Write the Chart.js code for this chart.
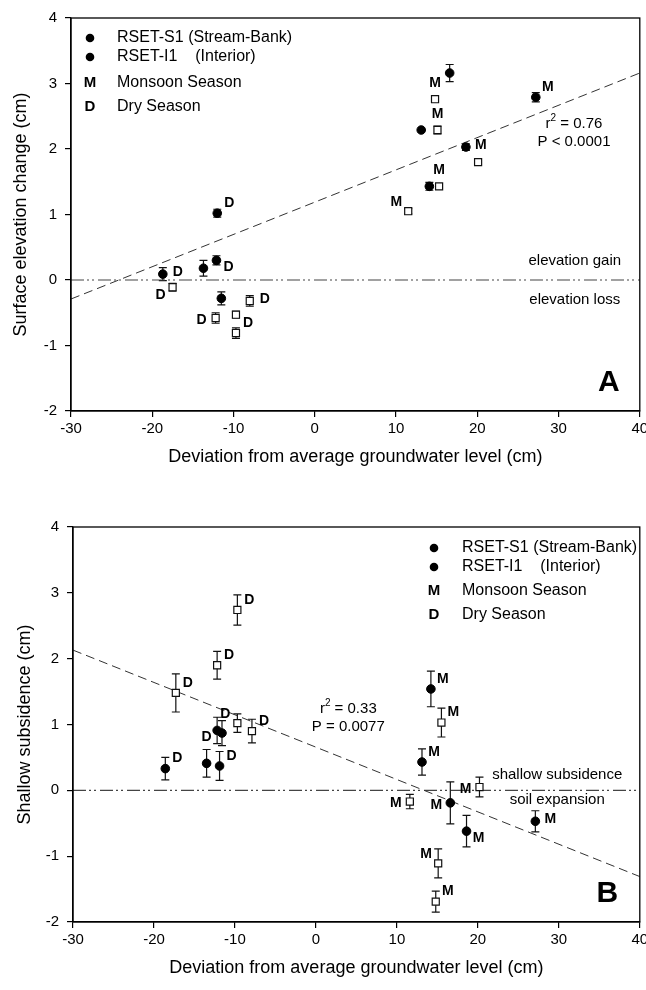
<!DOCTYPE html>
<html>
<head>
<meta charset="utf-8">
<script src="https://cdn.jsdelivr.net/npm/chart.js@4"></script>
<style>
  html, body { margin: 0; padding: 0; background: #fff; }
  .wrap { position: absolute; left: 0; }
</style>
</head>
<body>
<div class="wrap" style="top:0"><canvas id="chartA" width="646" height="475"></canvas></div>
<div class="wrap" style="top:475px"><canvas id="chartB" width="646" height="515"></canvas></div>
<script>
// ---- axis ticks
const xTicks = [-30, -20, -10, 0, 10, 20, 30, 40];
const yTicks = [-2, -1, 0, 1, 2, 3, 4];

// ---- Panel A: surface elevation change
const aCircX = [-18.7, -13.7, -12.0, -12.1, -11.5, 16.6, 27.2, 13.1, 18.6, 14.1];
const aCircY = [0.09, 0.18, 1.02, 0.30, -0.28, 3.16, 2.79, 2.29, 2.03, 1.43];
const aCircErr = [0.10, 0.12, 0.06, 0.07, 0.10, 0.13, 0.07, 0, 0.05, 0.06];
const aCircLbl = ['D', '', 'D', 'D', '', '', 'M', '', 'M', ''];
const aSqX = [-17.5, -12.2, -9.7, -9.7, -8.0, 14.8, 15.1, 20.1, 15.3, 11.5];
const aSqY = [-0.11, -0.58, -0.53, -0.81, -0.32, 2.76, 2.29, 1.80, 1.43, 1.05];
const aSqErr = [0.06, 0.08, 0.05, 0.08, 0.08, 0, 0.06, 0, 0, 0.04];
const aSqLbl = ['D', 'D', '', 'D', 'D', 'M', 'M', '', 'M', 'M'];
const aFitX = [-30, 40];
const aFitY = [-0.29, 3.16];

// ---- Panel B: shallow subsidence
const bCircX = [-18.6, -13.5, -12.2, -11.6, -11.9, 14.2, 13.1, 16.6, 18.6, 27.1];
const bCircY = [0.33, 0.41, 0.91, 0.87, 0.37, 1.54, 0.43, -0.19, -0.62, -0.47];
const bCircErr = [0.17, 0.21, 0.20, 0.19, 0.22, 0.27, 0.20, 0.32, 0.24, 0.16];
const bCircLbl = ['D', 'D', '', '', 'D', 'M', 'M', 'M', 'M', 'M'];
const bSqX = [-9.7, -12.2, -17.3, -9.7, -7.9, 15.5, 20.2, 11.6, 15.1, 14.8];
const bSqY = [2.74, 1.90, 1.48, 1.02, 0.90, 1.03, 0.05, -0.17, -1.11, -1.69];
const bSqErr = [0.23, 0.21, 0.29, 0.14, 0.18, 0.22, 0.15, 0.11, 0.22, 0.16];
const bSqLbl = ['D', 'D', 'D', 'D', 'D', 'M', 'M', 'M', 'M', 'M'];
const bFitX = [-30, 40];
const bFitY = [2.13, -1.31];

const zeroX = [-30, 40];
const zeroY = [0, 0];

// where each season letter sits relative to its marker (layout only)
const aCircPos = ['e', '', 'ne', 'se', '', '', 'ne', '', 'e', ''];
const aSqPos = ['sw', 'w', '', 'ne', 'e', 'n', 'n', '', 'n', 'nw'];
const bCircPos = ['ne', 'nn', '', '', 'ne', 'ne', 'ne', 'w', 'se', 'e'];
const bSqPos = ['ne', 'ne', 'ne', 'nw', 'ne', 'ne', 'w', 'w', 'nw', 'ne'];

const FONT = '"Liberation Sans", Arial, sans-serif';
const offsets = {
  e: [15, -2], w: [-14, 2], n: [0, -16], nn: [0, -26],
  ne: [12, -10], nw: [-12, -9], se: [12, 7], sw: [-12, 8]
};

function toPoints(xs, ys) {
  return xs.map((x, i) => ({ x: x, y: ys[i] }));
}

// error bars under the markers, season letters above them
const marksPlugin = {
  id: 'marks',
  beforeDatasetsDraw(chart) {
    const ctx = chart.ctx;
    const ys = chart.scales.y;
    chart.data.datasets.forEach((ds, di) => {
      if (!ds.errors) return;
      const meta = chart.getDatasetMeta(di);
      meta.data.forEach((pt, i) => {
        const e = ds.errors[i];
        if (!e) return;
        const v = ds.data[i].y;
        const top = ys.getPixelForValue(v + e);
        const bot = ys.getPixelForValue(v - e);
        ctx.save();
        ctx.strokeStyle = '#111';
        ctx.lineWidth = 1.2;
        ctx.beginPath();
        ctx.moveTo(pt.x, top); ctx.lineTo(pt.x, bot);
        ctx.moveTo(pt.x - 4, top); ctx.lineTo(pt.x + 4, top);
        ctx.moveTo(pt.x - 4, bot); ctx.lineTo(pt.x + 4, bot);
        ctx.stroke();
        ctx.restore();
      });
    });
  },
  afterDatasetsDraw(chart) {
    const ctx = chart.ctx;
    chart.data.datasets.forEach((ds, di) => {
      if (!ds.letters) return;
      const meta = chart.getDatasetMeta(di);
      meta.data.forEach((pt, i) => {
        const t = ds.letters[i];
        if (!t) return;
        const off = offsets[ds.letterPos[i]] || offsets.ne;
        ctx.save();
        ctx.font = 'bold 14px ' + FONT;
        ctx.fillStyle = '#000';
        ctx.textAlign = 'center';
        ctx.textBaseline = 'middle';
        ctx.fillText(t, pt.x + off[0], pt.y + off[1]);
        ctx.restore();
      });
    });
  }
};

function drawR2(ctx, cx, cy, value) {
  ctx.font = '15px ' + FONT;
  const w1 = ctx.measureText('r').width;
  const w3 = ctx.measureText(' = ' + value).width;
  ctx.font = '10px ' + FONT;
  const w2 = ctx.measureText('2').width;
  let x = cx - (w1 + w2 + w3) / 2;
  ctx.textAlign = 'left';
  ctx.textBaseline = 'middle';
  ctx.font = '15px ' + FONT;
  ctx.fillText('r', x, cy);
  ctx.font = '10px ' + FONT;
  ctx.fillText('2', x + w1, cy - 6);
  ctx.font = '15px ' + FONT;
  ctx.fillText(' = ' + value, x + w1 + w2, cy);
}

// frame, axis titles, legend and notes
const decorPlugin = {
  id: 'decor',
  afterDraw(chart, args, opts) {
    const ctx = chart.ctx;
    const a = chart.chartArea;
    const xs = chart.scales.x, ys = chart.scales.y;
    ctx.save();
    ctx.strokeStyle = '#000';
    ctx.lineWidth = 1.3;
    ctx.strokeRect(a.left, a.top, a.right - a.left, a.bottom - a.top);

    ctx.fillStyle = '#000';
    ctx.textAlign = 'center';
    ctx.textBaseline = 'middle';
    ctx.font = '18px ' + FONT;
    ctx.fillText('Deviation from average groundwater level (cm)', (a.left + a.right) / 2, a.bottom + opts.xTitleGap);
    ctx.save();
    ctx.translate(opts.yTitleX, (a.top + a.bottom) / 2);
    ctx.rotate(-Math.PI / 2);
    ctx.fillText(opts.yTitle, 0, 0);
    ctx.restore();

    // legend
    const lg = opts.legend;
    const mx = a.left + lg.x, tx = a.left + lg.textX;
    const rows = [['dot', 'RSET-S1 (Stream-Bank)'], ['dot', 'RSET-I1    (Interior)'],
                  ['M', 'Monsoon Season'], ['D', 'Dry Season']];
    rows.forEach((r, i) => {
      const y = a.top + lg.rows[i];
      if (r[0] === 'dot') {
        ctx.beginPath();
        ctx.arc(mx, y, 4.3, 0, Math.PI * 2);
        ctx.fill();
      } else {
        ctx.font = 'bold 15px ' + FONT;
        ctx.textAlign = 'center';
        ctx.fillText(r[0], mx, y);
      }
      ctx.font = '16px ' + FONT;
      ctx.textAlign = 'left';
      ctx.fillText(r[1], tx, y);
    });

    // regression stats
    const st = opts.stats;
    const sx = xs.getPixelForValue(st.x);
    drawR2(ctx, sx, ys.getPixelForValue(st.y1), st.r2);
    ctx.font = '15px ' + FONT;
    ctx.textAlign = 'center';
    ctx.fillText(st.p, sx, ys.getPixelForValue(st.y2));

    // zero-line notes
    opts.notes.forEach(n => {
      ctx.font = '15px ' + FONT;
      ctx.textAlign = 'center';
      ctx.fillText(n.text, xs.getPixelForValue(n.x), ys.getPixelForValue(n.y));
    });

    // panel letter
    ctx.font = 'bold 30px ' + FONT;
    ctx.textAlign = 'center';
    ctx.fillText(opts.letter.text, xs.getPixelForValue(opts.letter.x), ys.getPixelForValue(opts.letter.y));
    ctx.restore();
  }
};

function buildChart(id, p) {
  const datasets = [
    {
      label: 'RSET-S1', data: toPoints(p.circX, p.circY), errors: p.circErr,
      letters: p.circLbl, letterPos: p.circPos,
      pointStyle: 'circle', pointRadius: 4.3, backgroundColor: '#000', borderColor: '#000', borderWidth: 1
    },
    {
      label: 'RSET-I1', data: toPoints(p.sqX, p.sqY), errors: p.sqErr,
      letters: p.sqLbl, letterPos: p.sqPos,
      pointStyle: 'rect', pointRadius: 5, backgroundColor: '#fff', borderColor: '#111', borderWidth: 1.2
    },
    {
      label: 'fit', data: toPoints(p.fitX, p.fitY), showLine: true, pointRadius: 0,
      borderColor: '#333', borderWidth: 1, borderDash: [9, 5]
    },
    {
      label: 'zero', data: toPoints(zeroX, zeroY), showLine: true, pointRadius: 0,
      borderColor: '#444', borderWidth: 1.1, borderDash: [13, 3, 2, 3, 2, 4]
    }
  ];
  return new Chart(document.getElementById(id), {
    type: 'scatter',
    data: { datasets: datasets },
    options: {
      responsive: false,
      animation: false,
      events: [],
      layout: { padding: { top: p.padTop, right: p.padRight, left: 0, bottom: 0 } },
      scales: {
        x: {
          type: 'linear', min: xTicks[0], max: xTicks[xTicks.length - 1],
          afterFit(s) { s.height = p.xAxisHeight; s.paddingLeft = 0; s.paddingRight = 0; },
          afterBuildTicks(s) { s.ticks = xTicks.map(v => ({ value: v })); },
          grid: { drawOnChartArea: false, drawTicks: true, tickLength: 6, color: '#000', lineWidth: 1.2 },
          border: { display: true, color: '#000', width: 1.3 },
          ticks: { color: '#000', font: { family: FONT, size: 15 }, padding: 3, maxRotation: 0, autoSkip: false }
        },
        y: {
          type: 'linear', min: yTicks[0], max: yTicks[yTicks.length - 1],
          afterFit(s) { s.width = p.yAxisWidth; s.paddingTop = 0; s.paddingBottom = 0; },
          afterBuildTicks(s) { s.ticks = yTicks.map(v => ({ value: v })); },
          grid: { drawOnChartArea: false, drawTicks: true, tickLength: 6, color: '#000', lineWidth: 1.2 },
          border: { display: true, color: '#000', width: 1.3 },
          ticks: { color: '#000', font: { family: FONT, size: 15 }, padding: 8, autoSkip: false }
        }
      },
      plugins: {
        legend: { display: false },
        tooltip: { enabled: false },
        decor: p.decor
      }
    },
    plugins: [marksPlugin, decorPlugin]
  });
}

buildChart('chartA', {
  circX: aCircX, circY: aCircY, circErr: aCircErr, circLbl: aCircLbl, circPos: aCircPos,
  sqX: aSqX, sqY: aSqY, sqErr: aSqErr, sqLbl: aSqLbl, sqPos: aSqPos,
  fitX: aFitX, fitY: aFitY,
  padTop: 18, padRight: 5, yAxisWidth: 71, xAxisHeight: 64,
  decor: {
    yTitle: 'Surface elevation change (cm)', yTitleX: 21, xTitleGap: 46,
    legend: { x: 19, textX: 46, rows: [20, 39, 65, 89] },
    stats: { x: 31.9, y1: 2.38, y2: 2.11, r2: '0.76', p: 'P < 0.0001' },
    notes: [{ text: 'elevation gain', x: 32.0, y: 0.29 }, { text: 'elevation loss', x: 32.0, y: -0.31 }],
    letter: { text: 'A', x: 36.2, y: -1.57 }
  }
});

buildChart('chartB', {
  circX: bCircX, circY: bCircY, circErr: bCircErr, circLbl: bCircLbl, circPos: bCircPos,
  sqX: bSqX, sqY: bSqY, sqErr: bSqErr, sqLbl: bSqLbl, sqPos: bSqPos,
  fitX: bFitX, fitY: bFitY,
  padTop: 52, padRight: 3, yAxisWidth: 73, xAxisHeight: 68,
  decor: {
    yTitle: 'Shallow subsidence (cm)', yTitleX: 25, xTitleGap: 46,
    legend: { x: 361, textX: 389, rows: [21, 40, 64, 88] },
    stats: { x: 4.0, y1: 1.23, y2: 0.96, r2: '0.33', p: 'P = 0.0077' },
    notes: [{ text: 'shallow subsidence', x: 29.8, y: 0.23 }, { text: 'soil expansion', x: 29.8, y: -0.15 }],
    letter: { text: 'B', x: 36.0, y: -1.57 }
  }
});
</script>
</body>
</html>
